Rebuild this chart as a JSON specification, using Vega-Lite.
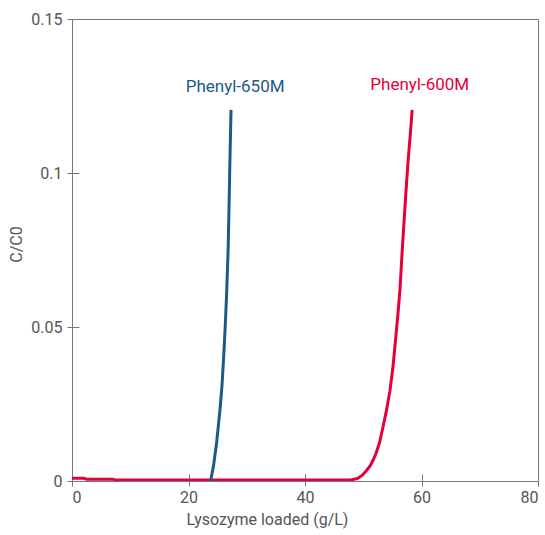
{
  "$schema": "https://vega.github.io/schema/vega-lite/v6.json",
  "width": 466,
  "height": 462,
  "autosize": {"type": "none"},
  "padding": {"left": 72, "top": 19, "right": 7, "bottom": 54},
  "background": "white",
  "config": {
    "view": {"stroke": "#777", "strokeWidth": 1},
    "font": "Roboto",
    "axis": {
      "grid": false,
      "domainColor": "#777",
      "tickColor": "#777",
      "labelColor": "#555",
      "titleColor": "#555",
      "labelFont": "Roboto",
      "titleFont": "Roboto",
      "labelFontSize": 16,
      "titleFontSize": 16,
      "titleFontWeight": "normal"
    }
  },
  "datasets": {
    "curves": [
      {"series": "Phenyl-600M", "i": 0, "x": 0, "y": 0.0009},
      {"series": "Phenyl-600M", "i": 1, "x": 2, "y": 0.0009},
      {"series": "Phenyl-600M", "i": 2, "x": 2.5, "y": 0.0006},
      {"series": "Phenyl-600M", "i": 3, "x": 7, "y": 0.0006},
      {"series": "Phenyl-600M", "i": 4, "x": 7.5, "y": 0.0003},
      {"series": "Phenyl-600M", "i": 5, "x": 20, "y": 0.0003},
      {"series": "Phenyl-600M", "i": 6, "x": 38, "y": 0.0003},
      {"series": "Phenyl-600M", "i": 7, "x": 46, "y": 0.0003},
      {"series": "Phenyl-600M", "i": 8, "x": 48, "y": 0.0004},
      {"series": "Phenyl-600M", "i": 9, "x": 49.0, "y": 0.0008},
      {"series": "Phenyl-600M", "i": 10, "x": 49.8, "y": 0.0018},
      {"series": "Phenyl-600M", "i": 11, "x": 50.6, "y": 0.0035},
      {"series": "Phenyl-600M", "i": 12, "x": 51.2, "y": 0.005},
      {"series": "Phenyl-600M", "i": 13, "x": 51.7, "y": 0.0068},
      {"series": "Phenyl-600M", "i": 14, "x": 52.2, "y": 0.009},
      {"series": "Phenyl-600M", "i": 15, "x": 52.8, "y": 0.0125},
      {"series": "Phenyl-600M", "i": 16, "x": 53.4, "y": 0.0176},
      {"series": "Phenyl-600M", "i": 17, "x": 54.0, "y": 0.023},
      {"series": "Phenyl-600M", "i": 18, "x": 54.6, "y": 0.0295},
      {"series": "Phenyl-600M", "i": 19, "x": 55.1, "y": 0.037},
      {"series": "Phenyl-600M", "i": 20, "x": 55.5, "y": 0.045},
      {"series": "Phenyl-600M", "i": 21, "x": 55.9, "y": 0.053},
      {"series": "Phenyl-600M", "i": 22, "x": 56.3, "y": 0.062},
      {"series": "Phenyl-600M", "i": 23, "x": 56.6, "y": 0.072},
      {"series": "Phenyl-600M", "i": 24, "x": 56.95, "y": 0.0826},
      {"series": "Phenyl-600M", "i": 25, "x": 57.3, "y": 0.093},
      {"series": "Phenyl-600M", "i": 26, "x": 57.7, "y": 0.104},
      {"series": "Phenyl-600M", "i": 27, "x": 58.1, "y": 0.113},
      {"series": "Phenyl-600M", "i": 28, "x": 58.4, "y": 0.1205},
      {"series": "Phenyl-650M", "i": 0, "x": 23.8, "y": 0.0},
      {"series": "Phenyl-650M", "i": 1, "x": 24.3, "y": 0.005},
      {"series": "Phenyl-650M", "i": 2, "x": 24.8, "y": 0.012},
      {"series": "Phenyl-650M", "i": 3, "x": 25.4, "y": 0.023},
      {"series": "Phenyl-650M", "i": 4, "x": 25.75, "y": 0.031},
      {"series": "Phenyl-650M", "i": 5, "x": 26.0, "y": 0.039},
      {"series": "Phenyl-650M", "i": 6, "x": 26.3, "y": 0.05},
      {"series": "Phenyl-650M", "i": 7, "x": 26.55, "y": 0.061},
      {"series": "Phenyl-650M", "i": 8, "x": 26.8, "y": 0.075},
      {"series": "Phenyl-650M", "i": 9, "x": 26.95, "y": 0.088},
      {"series": "Phenyl-650M", "i": 10, "x": 27.1, "y": 0.103},
      {"series": "Phenyl-650M", "i": 11, "x": 27.3, "y": 0.1205}
    ],
    "labels": [
      {"series": "Phenyl-650M", "x": 28.0, "y": 0.128},
      {"series": "Phenyl-600M", "x": 59.7, "y": 0.1285}
    ]
  },
  "resolve": {"axis": {"x": "independent", "y": "independent"}},
  "layer": [
    {
      "data": {"name": "curves"},
      "mark": {"type": "line", "strokeWidth": 3, "clip": true},
      "encoding": {
        "x": {"field": "x", "type": "quantitative", "scale": {"domain": [0, 80], "nice": false}, "axis": {"orient": "bottom", "values": [0, 20, 40, 60, 80], "tickSize": 5, "labelPadding": 3, "title": "Lysozyme loaded (g/L)", "titlePadding": 6, "titleX": 195}},
        "y": {"field": "y", "type": "quantitative", "scale": {"domain": [0, 0.15], "nice": false}, "axis": {"orient": "left", "values": [0, 0.05, 0.1, 0.15], "labelExpr": "datum.value == 0 ? '0' : format(datum.value, '.2~f')", "tickSize": 5, "labelPadding": 5, "title": "C/C0", "titlePadding": 6, "titleY": 225}},
        "color": {"field": "series", "type": "nominal", "scale": {"domain": ["Phenyl-650M", "Phenyl-600M"], "range": ["#1a5a85", "#e4003a"]}, "legend": null},
        "order": {"field": "i", "type": "quantitative"}
      }
    },
    {
      "data": {"name": "labels"},
      "mark": {"type": "text", "fontSize": 17, "font": "Roboto", "align": "center", "baseline": "middle"},
      "encoding": {
        "x": {"field": "x", "type": "quantitative", "axis": {"orient": "bottom", "values": [20, 40, 60], "tickSize": -7, "labels": false, "domain": false, "title": null}},
        "y": {"field": "y", "type": "quantitative", "axis": {"orient": "left", "values": [0, 0.05, 0.1], "tickSize": -7, "labels": false, "domain": false, "title": null}},
        "text": {"field": "series"},
        "color": {"field": "series", "type": "nominal", "legend": null}
      }
    }
  ]
}
